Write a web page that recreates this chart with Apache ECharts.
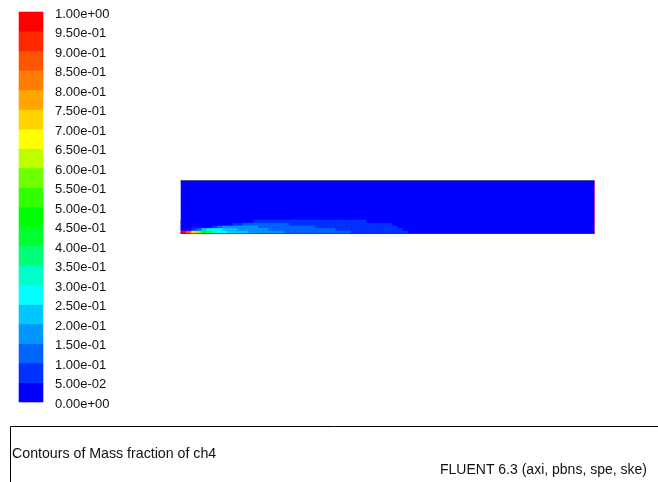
<!DOCTYPE html>
<html>
<head>
<meta charset="utf-8">
<style>
  html, body { margin: 0; padding: 0; background: #ffffff; }
  #chart { width: 658px; height: 482px; }
</style>
<script src="https://cdn.jsdelivr.net/npm/echarts@6/dist/echarts.min.js"></script>
</head>
<body>
<div id="chart"></div>
<script>
// Contour levels of CH4 mass fraction (20 bands)
const contourLevels = [0, 0.05, 0.10, 0.15, 0.20, 0.25, 0.30, 0.35, 0.40, 0.45, 0.50,
                       0.55, 0.60, 0.65, 0.70, 0.75, 0.80, 0.85, 0.90, 0.95, 1.00];

// Band colours, lowest band first
const bandColors = ['#0000ff', '#0032ff', '#0064ff', '#0096ff', '#00c8ff',
                    '#00ffff', '#00ffc8', '#00ff78', '#00ff32', '#00ff00',
                    '#32ff00', '#6eff00', '#beff00', '#ffff00', '#ffd200',
                    '#ffa500', '#ff7d00', '#ff5500', '#ff2800', '#ff0000'];

// Axisymmetric domain: axial length and radius (mesh units)
const domainLength = 80;
const domainRadius = 10;

// Mesh column edges along the axis (fuel plume region)
const meshX = [0, 1, 2, 3, 4, 5, 6, 7, 8, 9, 10, 11, 12, 13, 14, 15, 16, 17, 18, 19, 20,
               21, 22, 23, 24, 25, 26, 27, 28, 29, 30, 31, 32, 33, 34, 35, 36, 37, 38, 39,
               40, 41, 42, 43, 44];
// Mesh row edges in radius, from the axis outward
const meshR = [0, 0.5, 1.0, 1.5, 2.0, 2.5];

// CH4 mass fraction per cell, one list per mesh row (row 0 on the axis)
const ch4Row0 = [0.97, 0.88, 0.72, 0.58, 0.47, 0.40, 0.34, 0.29, 0.26, 0.24,
                 0.22, 0.21, 0.20, 0.19, 0.18, 0.17, 0.16, 0.16, 0.15, 0.15,
                 0.14, 0.14, 0.13, 0.13, 0.13, 0.12, 0.12, 0.12, 0.11, 0.11,
                 0.10, 0.10, 0.10, 0.09, 0.09, 0.09, 0.08, 0.08, 0.07, 0.07,
                 0.07, 0.06, 0.06, 0.05];
const ch4Row1 = [0.00, 0.00, 0.06, 0.14, 0.22, 0.27, 0.28, 0.26, 0.24, 0.22,
                 0.20, 0.19, 0.18, 0.17, 0.16, 0.15, 0.15, 0.14, 0.14, 0.13,
                 0.13, 0.12, 0.12, 0.12, 0.11, 0.11, 0.11, 0.10, 0.10, 0.10,
                 0.09, 0.09, 0.09, 0.08, 0.08, 0.08, 0.07, 0.07, 0.07, 0.06,
                 0.06, 0.06, 0.05, 0.03];
const ch4Row2 = [0.00, 0.00, 0.00, 0.00, 0.00, 0.03, 0.08, 0.14, 0.18, 0.19,
                 0.18, 0.17, 0.16, 0.15, 0.15, 0.14, 0.13, 0.13, 0.12, 0.12,
                 0.11, 0.11, 0.11, 0.10, 0.10, 0.10, 0.09, 0.09, 0.09, 0.09,
                 0.08, 0.08, 0.08, 0.07, 0.07, 0.07, 0.06, 0.06, 0.06, 0.06,
                 0.05, 0.05, 0.03, 0.00];
const ch4Row3 = [0.00, 0.00, 0.00, 0.00, 0.00, 0.00, 0.00, 0.00, 0.00, 0.03,
                 0.06, 0.09, 0.11, 0.12, 0.12, 0.12, 0.11, 0.11, 0.10, 0.10,
                 0.10, 0.09, 0.09, 0.09, 0.09, 0.08, 0.08, 0.08, 0.08, 0.08,
                 0.07, 0.07, 0.07, 0.07, 0.06, 0.06, 0.06, 0.06, 0.06, 0.05,
                 0.05, 0.03, 0.00, 0.00];
const ch4Row4 = [0.00, 0.00, 0.00, 0.00, 0.00, 0.00, 0.00, 0.00, 0.00, 0.00,
                 0.00, 0.00, 0.00, 0.03, 0.05, 0.06, 0.07, 0.07, 0.07, 0.07,
                 0.07, 0.07, 0.07, 0.07, 0.07, 0.07, 0.07, 0.07, 0.07, 0.06,
                 0.06, 0.06, 0.06, 0.06, 0.06, 0.05, 0.03, 0.00, 0.00, 0.00,
                 0.00, 0.00, 0.00, 0.00];
// Value outside the plume (ambient air)
const ch4Ambient = 0.0;

const ch4Rows = [ch4Row0, ch4Row1, ch4Row2, ch4Row3, ch4Row4];

const titleText = 'Contours of Mass fraction of ch4';
const solverText = 'FLUENT 6.3 (axi, pbns, spe, ske)';

function bandColor(v) {
  let b = 0;
  for (let i = 1; i < contourLevels.length - 1; i++) {
    if (v >= contourLevels[i] - 1e-9) b = i;
  }
  return bandColors[b];
}

function sciLabel(v) {
  return Number(v).toExponential(2).replace(/e([+-])(\d)$/, 'e$10$2');
}

// Cells as [x0, x1, r0, r1, value]
const fieldCells = [[0, domainLength, 0, domainRadius, ch4Ambient]];
ch4Rows.forEach(function (row, j) {
  row.forEach(function (v, i) {
    fieldCells.push([meshX[i], meshX[i + 1], meshR[j], meshR[j + 1], v]);
  });
});

const barCells = [];
for (let i = 0; i < contourLevels.length - 1; i++) {
  const lo = contourLevels[i], hi = contourLevels[i + 1];
  barCells.push([0, 1, lo, hi, (lo + hi) / 2]);
}

function renderCell(params, api) {
  const p0 = api.coord([api.value(0), api.value(2)]);
  const p1 = api.coord([api.value(1), api.value(3)]);
  const c = bandColor(api.value(4));
  return {
    type: 'rect',
    shape: { x: p0[0], y: p1[1], width: p1[0] - p0[0], height: p0[1] - p1[1] },
    style: { fill: c, stroke: c, lineWidth: 0.6 }
  };
}

const font = '"Liberation Sans", Arial, Helvetica, sans-serif';
const hiddenAxis = { show: true, axisLine: { show: false }, axisTick: { show: false },
                     axisLabel: { show: false }, splitLine: { show: false } };

const chart = echarts.init(document.getElementById('chart'), null, { renderer: 'canvas' });
chart.setOption({
  animation: false,
  backgroundColor: '#ffffff',
  grid: [
    { left: 181, top: 181, width: 413, height: 52 },   // flow domain
    { left: 19, top: 12, width: 24, height: 390 },     // colour bar
    { left: 19, top: 14, width: 24, height: 390 }      // colour bar labels
  ],
  xAxis: [
    Object.assign({}, hiddenAxis, { type: 'value', gridIndex: 0, position: 'bottom', min: 0, max: domainLength,
      axisLine: { show: true, onZero: false, lineStyle: { color: '#000000', width: 1.5 } } }),
    Object.assign({}, hiddenAxis, { type: 'value', gridIndex: 0, position: 'top', min: 0, max: domainLength,
      axisLine: { show: true, onZero: false, lineStyle: { color: '#4a4a66', width: 1.5 } } }),
    Object.assign({}, hiddenAxis, { type: 'value', gridIndex: 1, min: 0, max: 1 }),
    Object.assign({}, hiddenAxis, { type: 'value', gridIndex: 2, min: 0, max: 1 })
  ],
  yAxis: [
    Object.assign({}, hiddenAxis, { type: 'value', gridIndex: 0, position: 'left', min: 0, max: domainRadius,
      axisLine: { show: true, onZero: false, lineStyle: { color: '#6a6aff', width: 1 } } }),
    Object.assign({}, hiddenAxis, { type: 'value', gridIndex: 0, position: 'right', min: 0, max: domainRadius,
      axisLine: { show: true, onZero: false, lineStyle: { color: '#ff1e3c', width: 1.5 } } }),
    Object.assign({}, hiddenAxis, { type: 'value', gridIndex: 1, min: 0, max: 1 }),
    { type: 'value', gridIndex: 2, position: 'right', min: 0, max: 1, interval: 0.05,
      axisLine: { show: false }, axisTick: { show: false }, splitLine: { show: false },
      axisLabel: { show: true, margin: 12, color: '#111111', fontSize: 13, fontFamily: font,
                   formatter: function (v) { return sciLabel(v); } } }
  ],
  series: [
    { type: 'custom', xAxisIndex: 0, yAxisIndex: 0, renderItem: renderCell,
      encode: { x: [0, 1], y: [2, 3] }, data: fieldCells, silent: true },
    { type: 'custom', xAxisIndex: 2, yAxisIndex: 2, renderItem: renderCell,
      encode: { x: [0, 1], y: [2, 3] }, data: barCells, silent: true }
  ],
  graphic: [
    { type: 'polyline', shape: { points: [[10.5, 482], [10.5, 426.5], [658, 426.5]] },
      style: { stroke: '#000000', lineWidth: 1, fill: null } },
    { type: 'text', left: 12, top: 447,
      style: { text: titleText, fill: '#111111', font: '14.2px ' + font } },
    { type: 'text', left: 440, top: 463,
      style: { text: solverText, fill: '#111111', font: '14px ' + font } }
  ]
});
</script>
</body>
</html>
